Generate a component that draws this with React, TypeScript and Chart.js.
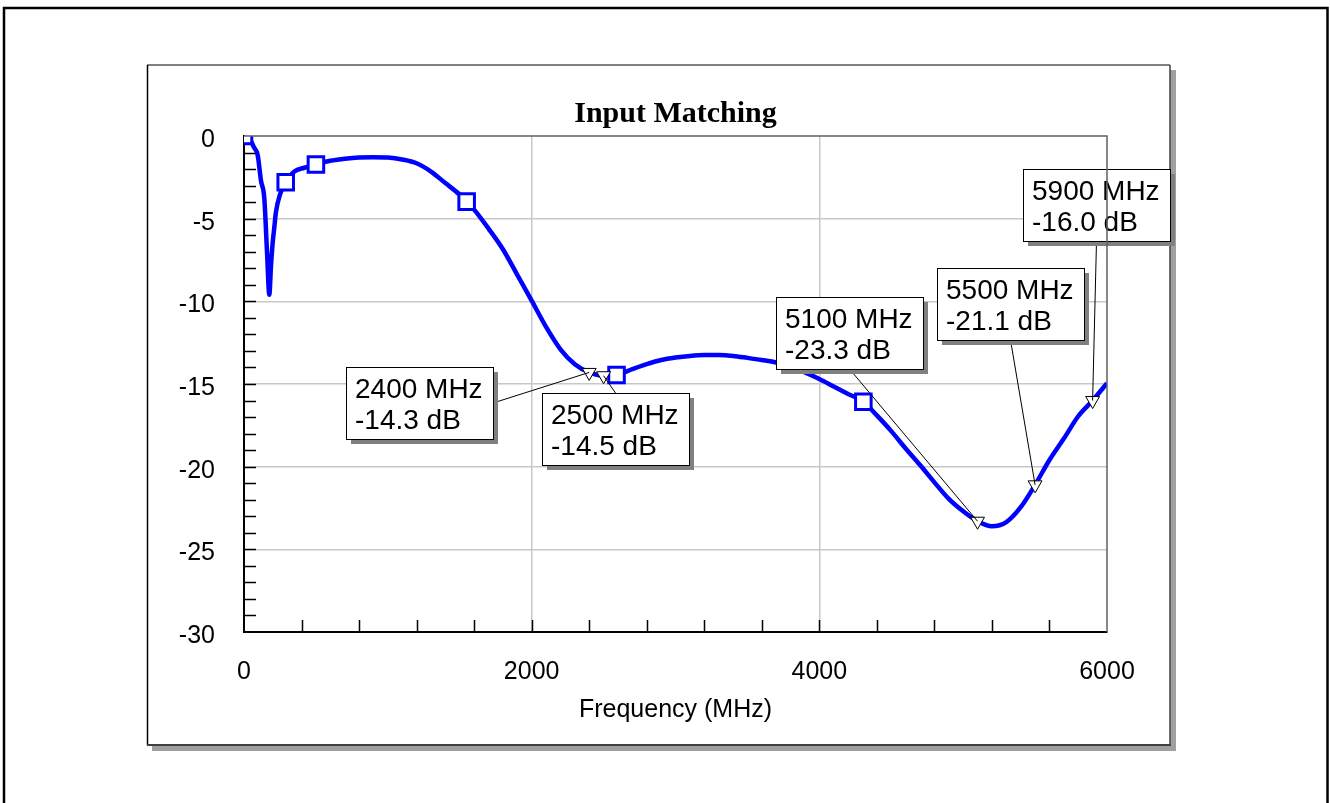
import React, { useEffect, useRef } from 'react';
import { Chart, registerables } from 'chart.js';

Chart.register(...registerables);

// ---------------- data ----------------
const freqMHz = [
  0, 20, 45, 70, 95, 118, 141, 160, 176, 188, 199, 211, 222, 250, 290, 350, 420, 500,
  600, 700, 800, 900, 1000, 1100, 1200, 1300, 1400, 1500, 1548, 1600, 1700, 1800, 1900,
  2000, 2100, 2200, 2300, 2400, 2500, 2590, 2700, 2800, 2900, 3000, 3100, 3200, 3300,
  3400, 3500, 3600, 3700, 3800, 3900, 4000, 4100, 4200, 4306, 4400, 4500, 4600, 4700,
  4800, 4900, 5000, 5100, 5200, 5300, 5400, 5500, 5600, 5700, 5800, 5900, 6000,
];
const s11Db = [
  0, -0.02, -0.25, -0.7, -1.15, -2.7, -3.75, -7.0, -9.6, -7.8, -6.5, -5.5, -4.6, -3.55, -2.8, -2.15, -1.92, -1.72,
  -1.5, -1.38, -1.3, -1.28, -1.3, -1.42, -1.65, -2.15, -2.85, -3.55, -3.97, -4.45, -5.6, -6.85, -8.4,
  -9.96, -11.55, -12.9, -13.8, -14.3, -14.5, -14.45, -14.1, -13.8, -13.55, -13.4, -13.3, -13.25, -13.25,
  -13.3, -13.42, -13.55, -13.7, -13.95, -14.3, -14.7, -15.15, -15.6, -16.07, -16.9, -17.85, -18.9, -19.9,
  -20.95, -21.95, -22.7, -23.3, -23.6, -23.35, -22.45, -21.1, -19.6, -18.3, -16.95, -16.0, -14.95,
];

const squareFreqMHz = [0, 290, 500, 1548, 2590, 4306];
const squareDb = [0, -2.8, -1.72, -3.97, -14.45, -16.07];

const markerFreqMHz = [2400, 2500, 5100, 5500, 5900];
const markerDb = [-14.3, -14.5, -23.3, -21.1, -16.0];

const xTickValues = [0, 2000, 4000, 6000];
const yTickValues = [0, -5, -10, -15, -20, -25, -30];
const xMinorStep = 400;
const yMinorStep = 1;

const chartTitle = 'Input Matching';
const xAxisTitle = 'Frequency (MHz)';

// layout: callout box top-left corners, expressed in data coordinates
const calloutAnchorMHz = [709, 2074, 3697, 4816, 5418];
const calloutAnchorDb = [-14.0, -15.53, -9.72, -8.0, -2.0];

const SANS = '"Liberation Sans", Arial, sans-serif';
const SERIF = '"Liberation Serif", "Times New Roman", serif';

const framePlugin = {
  id: 'frame',
  beforeDraw(chart: any) {
    const ctx = chart.ctx;
    ctx.save();
    ctx.fillStyle = '#ffffff';
    ctx.fillRect(0, 0, chart.width, chart.height);
    // outer border
    ctx.strokeStyle = '#000';
    ctx.lineWidth = 2.5;
    ctx.strokeRect(4, 8, 1323.5, 900);
    // panel shadow
    ctx.fillStyle = '#a0a0a0';
    ctx.fillRect(152, 70, 1024, 681);
    ctx.fillStyle = '#ffffff';
    ctx.fillRect(147, 65, 1023, 680);
    // panel edges
    ctx.lineWidth = 2;
    ctx.strokeStyle = '#808080';
    ctx.beginPath(); ctx.moveTo(147, 65); ctx.lineTo(1170, 65); ctx.stroke();
    ctx.lineWidth = 1.5;
    ctx.strokeStyle = '#000';
    ctx.beginPath(); ctx.moveTo(147.5, 65); ctx.lineTo(147.5, 745); ctx.stroke();
    ctx.strokeStyle = '#404040';
    ctx.beginPath(); ctx.moveTo(1170, 65); ctx.lineTo(1170, 745); ctx.stroke();
    ctx.lineWidth = 2;
    ctx.beginPath(); ctx.moveTo(147, 745); ctx.lineTo(1171, 745); ctx.stroke();
    ctx.restore();
  },
  afterDraw(chart: any) {
    const ctx = chart.ctx;
    const a = chart.chartArea;
    const xs = chart.scales.x;
    const ys = chart.scales.y;
    ctx.save();
    // plot top & right borders
    ctx.strokeStyle = '#606060';
    ctx.lineWidth = 1.5;
    ctx.beginPath();
    ctx.moveTo(a.left, a.top);
    ctx.lineTo(a.right, a.top);
    ctx.lineTo(a.right, a.bottom);
    ctx.stroke();
    // minor ticks
    ctx.strokeStyle = '#000';
    ctx.lineWidth = 1.5;
    ctx.beginPath();
    for (let v = xs.min + xMinorStep; v < xs.max; v += xMinorStep) {
      const px = Math.round(xs.getPixelForValue(v)) + 0.5;
      ctx.moveTo(px, a.bottom);
      ctx.lineTo(px, a.bottom - 12);
    }
    for (let v = ys.max - yMinorStep; v > ys.min; v -= yMinorStep) {
      const py = Math.round(ys.getPixelForValue(v)) + 0.5;
      ctx.moveTo(a.left, py);
      ctx.lineTo(a.left + 12, py);
    }
    ctx.stroke();
    // title
    ctx.fillStyle = '#000';
    ctx.font = `bold 30px ${SERIF}`;
    ctx.textAlign = 'center';
    ctx.textBaseline = 'alphabetic';
    ctx.fillText(chartTitle, (a.left + a.right) / 2, a.top - 14);
    ctx.restore();
  },
};

const calloutPlugin = {
  id: 'callouts',
  afterDatasetsDraw(chart: any) {
    const ctx = chart.ctx;
    const xs = chart.scales.x;
    const ys = chart.scales.y;
    ctx.save();
    ctx.font = `28px ${SANS}`;
    markerFreqMHz.forEach((f, i) => {
      const mx = xs.getPixelForValue(f);
      const my = ys.getPixelForValue(markerDb[i]);
      const bx = Math.round(xs.getPixelForValue(calloutAnchorMHz[i]));
      const by = Math.round(ys.getPixelForValue(calloutAnchorDb[i]));
      const l1 = `${f} MHz`;
      const l2 = `${markerDb[i].toFixed(1)} dB`;
      const bw = Math.round(Math.max(ctx.measureText(l1).width, ctx.measureText(l2).width) + 19);
      const bh = 72;
      let ax: number, ay: number;
      if (my < by) { ax = bx + bw / 2; ay = by; }
      else if (my > by + bh) { ax = bx + bw / 2; ay = by + bh; }
      else if (mx > bx + bw) { ax = bx + bw; ay = by + bh / 2; }
      else { ax = bx; ay = by + bh / 2; }
      ctx.strokeStyle = '#000';
      ctx.lineWidth = 1;
      ctx.beginPath();
      ctx.moveTo(ax, ay);
      ctx.lineTo(mx, my);
      ctx.stroke();
      ctx.fillStyle = '#808080';
      ctx.fillRect(bx + 5, by + 5, bw, bh);
      ctx.fillStyle = '#ffffff';
      ctx.fillRect(bx, by, bw, bh);
      ctx.strokeRect(bx + 0.5, by + 0.5, bw, bh);
      ctx.fillStyle = '#000';
      ctx.textAlign = 'left';
      ctx.textBaseline = 'alphabetic';
      ctx.fillText(l1, bx + 9, by + 31);
      ctx.fillText(l2, bx + 9, by + 62);
    });
    ctx.restore();
  },
};

export default function App() {
  const ref = useRef<HTMLCanvasElement | null>(null);
  useEffect(() => {
    if (!ref.current) return;
    const chart = new Chart(ref.current, {
      type: 'line',
      data: {
        datasets: [
          {
            label: 'markers',
            data: markerFreqMHz.map((f, i) => ({ x: f, y: markerDb[i] })),
            showLine: false,
            pointStyle: 'triangle',
            pointRotation: 180,
            pointRadius: 8,
            pointBorderWidth: 1,
            pointBorderColor: '#000',
            pointBackgroundColor: '#ffffff',
            borderColor: '#000',
            order: 0,
          } as any,
          {
            label: 'points',
            data: squareFreqMHz.map((f, i) => ({ x: f, y: squareDb[i] })),
            showLine: false,
            pointStyle: 'rect',
            pointRadius: 11,
            pointBorderWidth: 3,
            pointBorderColor: '#0000ff',
            pointBackgroundColor: '#ffffff',
            borderColor: '#0000ff',
            borderWidth: 3,
            order: 1,
          } as any,
          {
            label: 'S11',
            data: freqMHz.map((f, i) => ({ x: f, y: s11Db[i] })),
            borderColor: '#0000ff',
            borderWidth: 4.5,
            pointRadius: 0,
            cubicInterpolationMode: 'monotone',
            order: 2,
          } as any,
        ],
      },
      options: {
        responsive: false,
        maintainAspectRatio: false,
        animation: false,
        devicePixelRatio: 1,
        layout: { padding: { left: 0, top: 136, right: 223, bottom: 78 } },
        plugins: { legend: { display: false }, tooltip: { enabled: false }, title: { display: false } },
        scales: {
          x: {
            type: 'linear',
            min: 0,
            max: 6000,
            afterBuildTicks: (s: any) => { s.ticks = xTickValues.map((v) => ({ value: v })); },
            afterFit: (s: any) => { s.height = 93; },
            ticks: {
              font: { family: SANS, size: 25 },
              color: '#000',
              padding: 25,
              maxRotation: 0,
              autoSkip: false,
              callback: (v: any) => String(v),
            },
            grid: {
              drawTicks: false,
              lineWidth: 1.5,
              color: (c: any) => (c.tick && (c.tick.value === 0 || c.tick.value === 6000) ? 'rgba(0,0,0,0)' : '#c8c8c8'),
            },
            border: { display: true, color: '#000', width: 2 },
            title: { display: true, text: xAxisTitle, color: '#000', font: { family: SANS, size: 25 }, padding: 0 },
          },
          y: {
            type: 'linear',
            min: -30,
            max: 0,
            afterBuildTicks: (s: any) => { s.ticks = yTickValues.map((v) => ({ value: v })); },
            afterFit: (s: any) => { s.width = 244; },
            ticks: {
              font: { family: SANS, size: 25 },
              color: '#000',
              padding: 29,
              labelOffset: 4,
              autoSkip: false,
              callback: (v: any) => String(v),
            },
            grid: {
              drawTicks: false,
              lineWidth: 1.5,
              color: (c: any) => (c.tick && (c.tick.value === 0 || c.tick.value === -30) ? 'rgba(0,0,0,0)' : '#c8c8c8'),
            },
            border: { display: true, color: '#000', width: 2 },
          },
        },
      } as any,
      plugins: [framePlugin, calloutPlugin],
    });
    return () => chart.destroy();
  }, []);
  return (
    <div style={{ position: 'absolute', left: 0, top: 0, width: 1330, height: 803 }}>
      <canvas ref={ref} width={1330} height={803} style={{ display: 'block' }} />
    </div>
  );
}
